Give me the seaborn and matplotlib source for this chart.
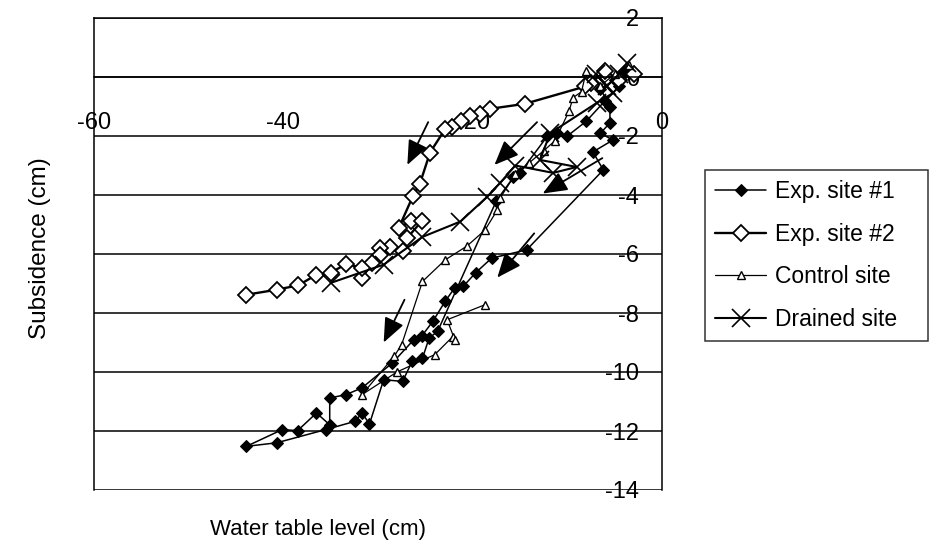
import numpy as np
import pandas as pd
import matplotlib
matplotlib.use('Agg')
import matplotlib.pyplot as plt
import seaborn as sns

# ---- data (water table level cm, subsidence cm) ----
exp1_x = [-4.0, -5.0, -6.5, -5.5, -5.5, -6.5, -5.2, -7.3, -6.2, -14.3, -18.0, -19.7,
          -21.0, -21.9, -22.9, -24.2, -25.4, -26.2, -28.5, -31.7, -33.4, -35.1, -35.1,
          -36.5, -38.5, -40.1, -43.9, -40.7, -35.5, -32.4, -31.7, -30.9, -29.4, -27.4,
          -26.4, -25.3, -24.6, -23.7, -17.5, -15.7, -15.0, -12.1, -11.1, -10.0, -8.0,
          -6.0, -4.5]
exp1_y = [0.2, -0.1, -0.4, -1.0, -1.56, -1.9, -2.14, -2.54, -3.15, -5.86, -6.14, -6.64,
          -7.10, -7.15, -7.60, -8.28, -8.79, -8.90, -9.70, -10.54, -10.77, -10.88, -11.79,
          -11.39, -11.99, -11.95, -12.52, -12.40, -11.95, -11.67, -11.39, -11.76, -10.26,
          -10.32, -9.64, -9.53, -8.85, -8.62, -4.20, -3.40, -3.25, -2.00, -1.90, -2.00,
          -1.50, -0.80, -0.30]

exp2_x = [-3.0, -4.5, -6.0, -7.5, -8.1, -14.5, -18.2, -19.2, -20.3, -21.2, -22.2, -22.9,
          -24.5, -25.6, -26.3, -27.8, -26.5, -25.4, -26.9, -27.4, -28.7, -29.8, -29.8,
          -30.6, -31.7, -31.7, -33.4, -35.0, -36.5, -38.4, -40.7, -43.9]
exp2_y = [0.1, -0.1, 0.2, -0.2, -0.32, -0.91, -1.08, -1.25, -1.31, -1.48, -1.70, -1.76,
          -2.56, -3.64, -4.03, -5.11, -4.89, -4.89, -5.45, -5.90, -5.75, -5.80, -6.02,
          -6.30, -6.81, -6.47, -6.34, -6.64, -6.70, -7.06, -7.21, -7.38]

ctrl_x = [-3.5, -5.0, -6.5, -8.0, -8.5, -9.4, -9.8, -11.3, -12.5, -14.0, -15.5, -17.1,
          -17.4, -18.7, -20.6, -22.9, -25.3, -27.5, -28.3, -31.7, -28.0, -24.0, -22.1,
          -21.9, -22.7, -18.7]
ctrl_y = [0.4, 0.1, -0.3, 0.2, -0.5, -0.7, -1.14, -2.16, -2.5, -2.9, -3.3, -4.1,
          -4.51, -5.19, -5.73, -6.2, -6.93, -9.07, -9.47, -10.77, -10.0, -9.41, -8.8,
          -8.9, -8.23, -7.72]

drain_x = [-3.7, -4.5, -5.8, -7.0, -5.2, -6.9, -11.8, -12.9, -9.0, -11.5, -15.5, -17.1,
           -18.5, -21.3, -25.3, -29.4, -35.0]
drain_y = [0.47, 0.1, -0.3, 0.1, -0.55, -0.88, -1.9, -2.81, -3.05, -3.25, -3.0, -3.59,
           -4.07, -4.9, -5.42, -6.36, -6.98]

# arrows: (start, tip)
arrows = [((-24.7, -1.53), (-26.9, -2.98)),
          ((-13.2, -1.53), (-17.7, -2.98)),
          ((-6.3, -2.75), (-12.6, -3.95)),
          ((-13.5, -5.30), (-17.4, -6.80)),
          ((-27.2, -7.55), (-29.4, -9.00))]

sns.set_style('white')
plt.rcParams['font.family'] = ['Liberation Sans', 'DejaVu Sans']
plt.rcParams['axes.unicode_minus'] = False
plt.rcParams['text.color'] = 'black'
plt.rcParams['xtick.color'] = 'black'
plt.rcParams['ytick.color'] = 'black'

fig = plt.figure(figsize=(9.33, 5.48), dpi=100)
ax = fig.add_axes([94 / 933, 58 / 548, 568 / 933, 472 / 548])

series = [
    ('Exp. site #1', exp1_x, exp1_y, dict(marker='D', ms=6, mfc='black', mec='black', lw=1.1)),
    ('Exp. site #2', exp2_x, exp2_y, dict(marker='D', ms=8, mfc='white', mec='black', mew=1.3, lw=1.7)),
    ('Control site', ctrl_x, ctrl_y, dict(marker='^', ms=6, mfc='white', mec='black', mew=1.0, lw=0.9)),
    ('Drained site', drain_x, drain_y, dict(marker='x', ms=13, mec='black', mew=1.2, lw=1.5)),
]
for name, xs, ys, kw in series:
    sns.lineplot(x=xs, y=ys, sort=False, estimator=None, color='black',
                 label=name, ax=ax, **kw)

for start, tip in arrows:
    ax.annotate('', xy=tip, xytext=start,
                arrowprops=dict(arrowstyle='-|>,head_length=0.6,head_width=0.25',
                                color='black', lw=1.3, mutation_scale=25,
                                shrinkA=0, shrinkB=0))

ax.set_xlim(-60, 0)
ax.set_ylim(-14, 2)
ax.set_xticks([-60, -40, -20, 0])
ax.set_yticks(range(-14, 3, 2))
ax.set_xlabel('')
ax.set_ylabel('')

# horizontal gridlines + frame
ax.yaxis.grid(True, color='black', lw=1.1)
ax.xaxis.grid(False)
for s in ['top', 'right', 'left', 'bottom']:
    ax.spines[s].set_color('black')
    ax.spines[s].set_linewidth(1.1)
ax.spines['bottom'].set_position(('data', 0))

ax.tick_params(axis='x', direction='out', length=7, width=1.1, color='black',
               labelsize=17, pad=18)
ax.tick_params(axis='y', length=0, labelright=True, labelleft=False,
               labelsize=17, pad=-16.5)
plt.setp(ax.get_yticklabels(), ha='right')

fig.text(318 / 933, 1 - 530 / 548, 'Water table level (cm)', ha='center', va='center', fontsize=16)
fig.text(40 / 933, 1 - 248 / 548, 'Subsidence (cm)', ha='center', va='center',
         rotation=90, fontsize=17.5)

leg = ax.legend(loc='upper left',
                bbox_to_anchor=(705 / 933, 1 - 340 / 548, 223 / 933, 170 / 548),
                bbox_transform=fig.transFigure, mode='expand', borderaxespad=0,
                frameon=True, fancybox=False, edgecolor='black', fontsize=16.5,
                handlelength=2.2, handletextpad=0.4, labelspacing=0.85, borderpad=0.45)
leg.get_frame().set_linewidth(1.1)

fig.savefig('out.png', dpi=100)
